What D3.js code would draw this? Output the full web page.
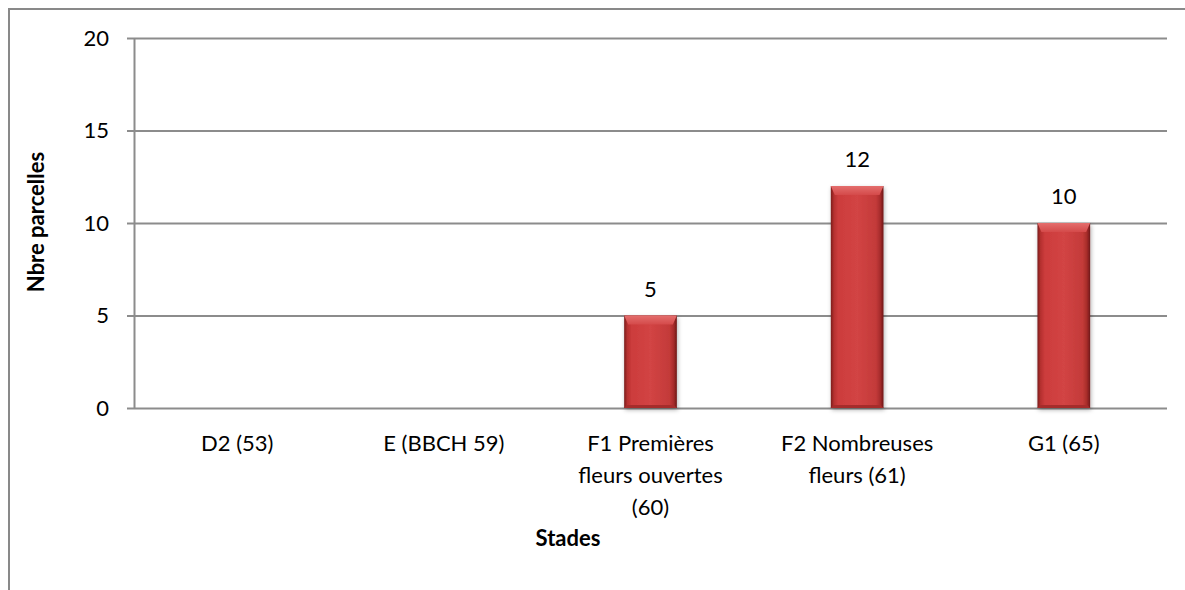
<!DOCTYPE html>
<html>
<head>
<meta charset="utf-8">
<script src="https://cdn.jsdelivr.net/npm/d3@7"></script>
<style>
  body { margin: 0; background: #fff; }
  text { font-family: Lato, "Open Sans", sans-serif; fill: #000; }
</style>
</head>
<body>
<div id="chart"></div>
<script>
// chart data
var categories = ["D2 (53)", "E (BBCH 59)", "F1 Premières fleurs ouvertes (60)", "F2 Nombreuses fleurs (61)", "G1 (65)"];
var categoryLines = [["D2 (53)"], ["E (BBCH 59)"], ["F1 Premières", "fleurs ouvertes", "(60)"], ["F2 Nombreuses", "fleurs (61)"], ["G1 (65)"]];
var values = [0, 0, 5, 12, 10];
var yTicks = [0, 5, 10, 15, 20];

var margin = {top: 38, right: 18, bottom: 182, left: 134},
    width = 1185 - margin.left - margin.right,
    height = 590 - margin.top - margin.bottom;

var base = d3.select("#chart").append("svg")
    .attr("width", 1185)
    .attr("height", 590);

// outer chart border (cropped on right and bottom)
base.append("rect")
    .attr("x", 9).attr("y", 9)
    .attr("width", 1200).attr("height", 600)
    .attr("fill", "none")
    .attr("stroke", "#898989")
    .attr("stroke-width", 2);

var defs = base.append("defs");
var grad = defs.append("linearGradient").attr("id", "barGrad")
    .attr("x1", "0%").attr("x2", "100%").attr("y1", "0%").attr("y2", "0%");
[["0%", "#7a1c1b"], ["6%", "#b5302f"], ["14%", "#cc3c3c"], ["50%", "#d24444"], ["86%", "#c33a39"], ["94%", "#a52b2a"], ["100%", "#6e1716"]]
  .forEach(function(s) { grad.append("stop").attr("offset", s[0]).attr("stop-color", s[1]); });

var topGrad = defs.append("linearGradient").attr("id", "topGrad")
    .attr("x1", "0%").attr("x2", "0%").attr("y1", "0%").attr("y2", "100%");
topGrad.append("stop").attr("offset", "0%").attr("stop-color", "#e46e6d");
topGrad.append("stop").attr("offset", "100%").attr("stop-color", "#d44a4a");

var shadow = defs.append("filter").attr("id", "shadow")
    .attr("x", "-20%").attr("y", "-10%").attr("width", "140%").attr("height", "125%");
shadow.append("feDropShadow").attr("dx", 1).attr("dy", 2).attr("stdDeviation", 2)
    .attr("flood-color", "#000").attr("flood-opacity", 0.3);

var svg = base.append("g")
    .attr("transform", "translate(" + margin.left + "," + margin.top + ")");

var x = d3.scaleBand().domain(categories).range([0, width]).paddingInner(0.745).paddingOuter(0.372);
var y = d3.scaleLinear().domain([0, 20]).range([height, 0]);

// gridlines
svg.append("g")
    .attr("class", "grid")
    .call(d3.axisLeft(y).tickValues(yTicks).tickSize(-width).tickFormat(""))
    .call(function(g) {
      g.select(".domain").remove();
      g.selectAll("line").attr("stroke", "#8c8c8c").attr("stroke-width", 2);
    });

// y axis
svg.append("g")
    .attr("class", "yAxis")
    .call(d3.axisLeft(y).tickValues(yTicks).tickSize(7).tickSizeOuter(0).tickPadding(18))
    .call(function(g) {
      g.select(".domain").attr("stroke", "#8c8c8c").attr("stroke-width", 2);
      g.selectAll("line").attr("stroke", "#8c8c8c").attr("stroke-width", 2);
      g.selectAll("text").style("font-size", "22px").style("font-family", "Lato, sans-serif");
    });

// bars
var bars = svg.selectAll(".bar")
    .data(values.map(function(v, i) { return {cat: categories[i], value: v}; }))
    .enter().append("g")
    .attr("class", "bar")
    .filter(function(d) { return d.value > 0; });

bars.append("rect")
    .attr("x", function(d) { return x(d.cat); })
    .attr("y", function(d) { return y(d.value); })
    .attr("width", x.bandwidth())
    .attr("height", function(d) { return height - y(d.value); })
    .attr("fill", "url(#barGrad)")
    .attr("filter", "url(#shadow)");

// top bevel
bars.append("path")
    .attr("d", function(d) {
      var x0 = x(d.cat), x1 = x0 + x.bandwidth(), t = y(d.value), b = 9, s = 4;
      return "M" + x0 + "," + t + "L" + x1 + "," + t + "L" + (x1 - s) + "," + (t + b) +
             "L" + (x0 + s) + "," + (t + b) + "Z";
    })
    .attr("fill", "url(#topGrad)");

// bottom bevel
bars.append("path")
    .attr("d", function(d) {
      var x0 = x(d.cat), x1 = x0 + x.bandwidth(), bt = height, b = 3, s = 3;
      return "M" + x0 + "," + bt + "L" + x1 + "," + bt + "L" + (x1 - s) + "," + (bt - b) +
             "L" + (x0 + s) + "," + (bt - b) + "Z";
    })
    .attr("fill", "#a62c2b");

// value labels
bars.append("text")
    .attr("x", function(d) { return x(d.cat) + x.bandwidth() / 2; })
    .attr("y", function(d) { return y(d.value) - 19; })
    .attr("text-anchor", "middle")
    .style("font-size", "22px")
    .text(function(d) { return d.value; });

// category labels
categoryLines.forEach(function(lines, i) {
  var t = svg.append("text")
      .attr("text-anchor", "middle")
      .attr("x", x(categories[i]) + x.bandwidth() / 2)
      .attr("y", height + 43)
      .style("font-size", "22px");
  lines.forEach(function(l, j) {
    t.append("tspan")
      .attr("x", x(categories[i]) + x.bandwidth() / 2)
      .attr("dy", j === 0 ? 0 : 32)
      .text(l);
  });
});

// axis titles
base.append("text")
    .attr("x", 568)
    .attr("y", 546)
    .attr("text-anchor", "middle")
    .style("font-size", "22px")
    .style("font-weight", "bold")
    .text("Stades");

base.append("text")
    .attr("transform", "translate(44,222) rotate(-90)")
    .attr("text-anchor", "middle")
    .style("font-size", "22px")
    .style("font-weight", "bold")
    .text("Nbre parcelles");
</script>
</body>
</html>
